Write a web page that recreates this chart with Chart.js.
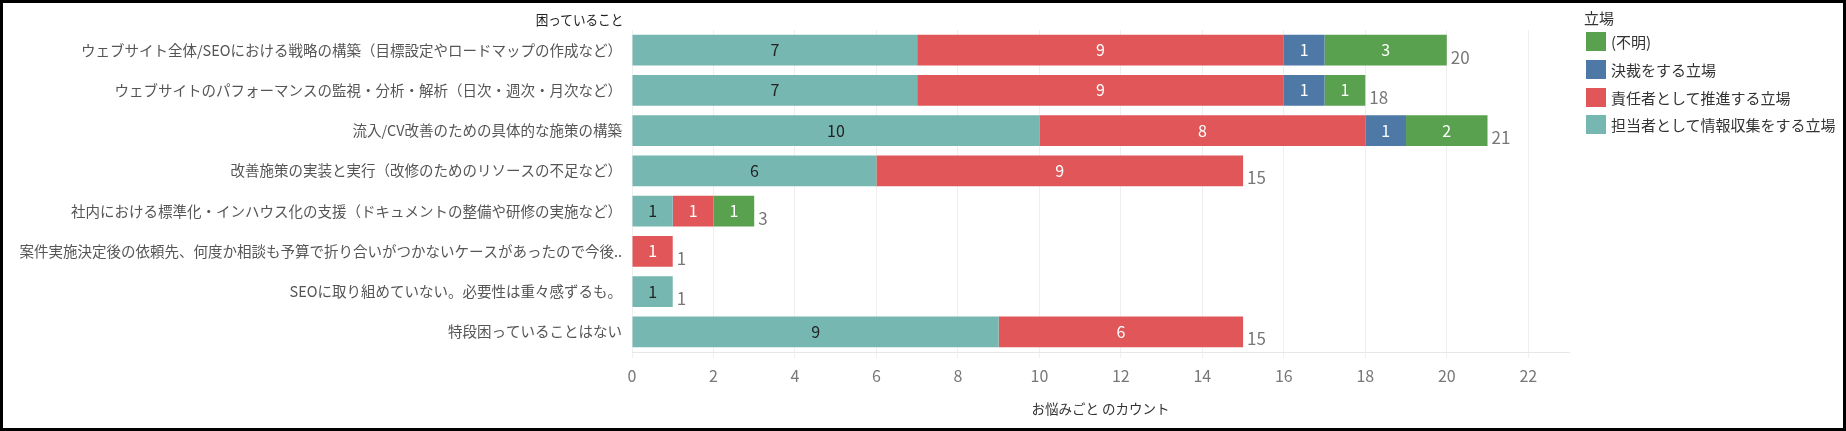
<!DOCTYPE html>
<html lang="ja">
<head>
<meta charset="utf-8">
<title>困っていること</title>
<script src="https://cdn.jsdelivr.net/npm/chart.js@4/dist/chart.umd.min.js"></script>
<style>
  body { margin: 0; background: #fff; font-family: "Noto Sans CJK JP", "Noto Sans", sans-serif; }
  #wrap { position: relative; width: 1846px; height: 431px; box-sizing: border-box; border: 3px solid #000; }
  #header { position: absolute; right: calc(1840px - 620px); top: 6px; font-size: 14px; line-height: 20px; color: #222; white-space: nowrap; transform: scaleX(0.9); transform-origin: right center; }
  #legend { position: absolute; left: 1581px; top: 5px; font-size: 15px; color: #333; white-space: nowrap; }
  #legend .ttl { line-height: 20px; height: 20px; }
  #legend .item { display: flex; align-items: center; height: 27.7px; }
  #legend .sw { width: 20px; height: 19px; margin: 0 5px 0 2px; box-sizing: border-box; }
</style>
</head>
<body>
<div id="wrap">
  <canvas id="grafica" width="1840" height="425"></canvas>
  <div id="header">困っていること</div>
  <div id="legend"><div class="ttl">立場</div></div>
</div>
<script>
// 困っていること
const categorias = [
  "ウェブサイト全体/SEOにおける戦略の構築（目標設定やロードマップの作成など）",
  "ウェブサイトのパフォーマンスの監視・分析・解析（日次・週次・月次など）",
  "流入/CV改善のための具体的な施策の構築",
  "改善施策の実装と実行（改修のためのリソースの不足など）",
  "社内における標準化・インハウス化の支援（ドキュメントの整備や研修の実施など）",
  "案件実施決定後の依頼先、何度か相談も予算で折り合いがつかないケースがあったので今後..",
  "SEOに取り組めていない。必要性は重々感ずるも。",
  "特段困っていることはない"
];

// 立場ごとのカウント
const tanto   = [7, 7, 10, 6, 1, 0, 1, 9];   // 担当者として情報収集をする立場
const sekinin = [9, 9, 8, 9, 1, 1, 0, 6];    // 責任者として推進する立場
const kessai  = [1, 1, 1, 0, 0, 0, 0, 0];    // 決裁をする立場
const fumei   = [3, 1, 2, 0, 1, 0, 0, 0];    // (不明)

// eje x
const xMax = 23;
const xTicks = [0, 2, 4, 6, 8, 10, 12, 14, 16, 18, 20, 22];

const fuente = '"Noto Sans CJK JP", "Noto Sans", sans-serif';

let miCanvas = document.getElementById("grafica").getContext("2d");

// etiquetas dentro de las barras y totales al final
const etiquetas = {
  id: "etiquetas",
  afterDatasetsDraw(chart) {
    const ctx = chart.ctx;
    const sets = chart.data.datasets;
    ctx.save();
    ctx.font = "16px " + fuente;
    ctx.textBaseline = "middle";
    sets.forEach((ds, i) => {
      const meta = chart.getDatasetMeta(i);
      meta.data.forEach((bar, j) => {
        const v = ds.data[j];
        if (!v) return;
        const p = bar.getProps(["x", "y", "base"], true);
        ctx.fillStyle = ds.labelColor;
        ctx.textAlign = "center";
        ctx.fillText(String(v), (p.x + p.base) / 2, p.y);
      });
    });
    ctx.font = "17px " + fuente;
    ctx.fillStyle = "#777";
    ctx.textAlign = "left";
    categorias.forEach((c, j) => {
      let total = 0, fin = null;
      sets.forEach((ds, i) => {
        if (ds.data[j]) {
          total += ds.data[j];
          fin = chart.getDatasetMeta(i).data[j].getProps(["x", "y"], true);
        }
      });
      if (fin) ctx.fillText(String(total), fin.x + 4, fin.y + 7);
    });
    ctx.restore();
  }
};

var chart = new Chart(miCanvas, {
  type: "bar",
  data: {
    labels: categorias,
    datasets: [
      { label: "担当者として情報収集をする立場", data: tanto, backgroundColor: "#76b7b2", labelColor: "#222" },
      { label: "責任者として推進する立場", data: sekinin, backgroundColor: "#e15759", labelColor: "#fff" },
      { label: "決裁をする立場", data: kessai, backgroundColor: "#4e79a7", labelColor: "#fff" },
      { label: "(不明)", data: fumei, backgroundColor: "#59a14f", labelColor: "#fff" }
    ]
  },
  options: {
    indexAxis: "y",
    responsive: false,
    animation: false,
    categoryPercentage: 1,
    barPercentage: 0.77,
    layout: { padding: { left: 0, top: 27, right: 274, bottom: 0 } },
    plugins: {
      legend: { display: false },
      tooltip: { enabled: false }
    },
    scales: {
      x: {
        stacked: true,
        min: 0,
        max: xMax,
        afterFit(scale) { scale.height = 76; },
        afterBuildTicks(scale) { scale.ticks = xTicks.map(v => ({ value: v })); },
        ticks: { color: "#777", padding: 8, font: { family: fuente, size: 16 } },
        grid: { color: "#efefef", tickLength: 6, tickColor: "#efefef" },
        border: { color: "#e6e6e6" },
        title: {
          display: true,
          text: "お悩みごと のカウント",
          color: "#333",
          padding: { top: 4, bottom: 11 },
          font: { family: fuente, size: 13.5 }
        }
      },
      y: {
        stacked: true,
        afterFit(scale) { scale.width = 629; },
        ticks: { color: "#555", padding: 10, autoSkip: false, font: { family: fuente, size: 14.5 } },
        grid: { display: false, drawTicks: false },
        border: { display: false }
      }
    }
  },
  plugins: [etiquetas]
});

// leyenda en HTML (orden inverso)
const leyenda = document.getElementById("legend");
chart.data.datasets.slice().reverse().forEach(ds => {
  const item = document.createElement("div");
  item.className = "item";
  const sw = document.createElement("span");
  sw.className = "sw";
  sw.style.background = ds.backgroundColor;
  const txt = document.createElement("span");
  txt.textContent = ds.label;
  item.appendChild(sw);
  item.appendChild(txt);
  leyenda.appendChild(item);
});
</script>
</body>
</html>
